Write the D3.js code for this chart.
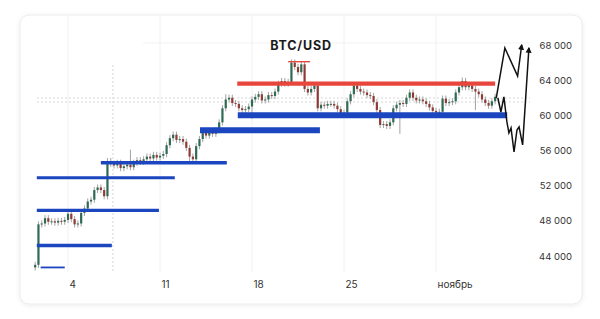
<!DOCTYPE html>
<html>
<head>
<meta charset="utf-8">
<script src="https://d3js.org/d3.v7.min.js"></script>
<style>
  body { margin: 0; background: #fff; }
  text { font-family: Inter, "Noto Sans", sans-serif; }
</style>
</head>
<body>
<div id="chart"></div>
<script>
    // candles: 6h bars starting Oct 1 2021, open = previous close
    var candleStart = "2021-10-01T12:00";
    var candleHours = 6;
    var firstOpen = 42700;
    var closes = [
        43000, 47600, 47700, 48300, 47900, 47950, 47800, 48000, 47900, 48100,
        48800, 48200, 47600, 47700, 48900, 49400, 50200, 50400, 51500, 51800,
        51500, 50800, 54800, 54500, 54300, 54600, 54000, 54200, 54400, 54100,
        54600, 54900, 54700, 55000, 55300, 55100, 55500, 55200, 55400, 55600,
        56600, 57400, 57800, 57200, 57300, 57000, 56300, 55300, 55000, 56500,
        57300, 58000, 57700, 58200, 57900, 58300, 59200, 60800, 61800, 62000,
        61400, 61300, 60800, 60600, 60700, 61000, 61800, 62100, 62400, 61700,
        61800, 62300, 62200, 62700, 63600, 63900, 63600, 63800, 66000, 65500,
        64900, 65800, 63000, 62600, 63000, 63400, 60800, 61200, 61100, 61300,
        61300, 61100, 60700, 60100, 60300, 61600, 62400, 63400, 63000, 62700,
        62600, 62300, 62200, 61500, 60600, 58900, 59000, 58800, 59200, 60800,
        61200, 61400, 61300, 62000, 62600, 62000, 61700, 61800, 61600, 61300,
        60900, 60500, 60300, 60400, 61900, 61400, 61500, 61600, 62600, 63200,
        63900, 63200, 63400, 63000, 62700, 62400, 61800, 61400, 61100, 61600,
        62100
    ];
    // a few longer wicks: [bar index, high, low]
    var longWicks = [
        [29, 56100, null], [47, null, 54600], [58, 62400, null], [66, null, 59600],
        [111, null, 57900], [130, 64300, null], [134, null, 60600]
    ];

    // support / resistance levels
    var bluePrices = [60000, 58300, 54600, 52900, 49200, 45200, 42700];
    var blueFrom = ["2021-10-16T22:00", "2021-10-14T01:00", "2021-10-06T12:00", "2021-10-01T15:00",
        "2021-10-01T15:00", "2021-10-01T15:00", "2021-10-01T22:00"];
    var blueTo = ["2021-11-06T10:00", "2021-10-23T04:00", "2021-10-16T02:00", "2021-10-12T03:00",
        "2021-10-10T22:00", "2021-10-07T08:00", "2021-10-03T18:00"];
    var redPrices = [63600, 66100];
    var redFrom = ["2021-10-16T21:00", "2021-10-20T18:00"];
    var redTo = ["2021-11-05T12:00", "2021-10-22T10:00"];

    // projected paths
    var pathUp = [
        ["2021-11-05T14:00", 61970], ["2021-11-06T05:45", 67660],
        ["2021-11-07T05:00", 64470], ["2021-11-07T12:30", 68000]
    ];
    var pathDown = [
        ["2021-11-05T17:00", 61970], ["2021-11-05T22:30", 60380], ["2021-11-06T04:00", 62090],
        ["2021-11-06T09:30", 59240], ["2021-11-06T13:10", 57990], ["2021-11-06T17:00", 58560],
        ["2021-11-06T22:30", 55830], ["2021-11-07T03:50", 58330], ["2021-11-07T07:40", 58680],
        ["2021-11-07T14:10", 56630], ["2021-11-08T01:40", 67660]
    ];

    // price marker lines and crosshair
    var priceLines = [61970, 61520];
    var crossDate = "2021-10-07T10:00";

    var xTicks = ["2021-10-04T00:00", "2021-10-11T00:00", "2021-10-18T00:00", "2021-10-25T00:00", "2021-11-01T00:00"];
    var yTicks = [44000, 48000, 52000, 56000, 60000, 64000, 68000];
    var title = "BTC/USD";
</script>
<script>
    var parse = d3.timeParse("%Y-%m-%dT%H:%M");
    var W = 600, H = 319;

    var svg = d3.select("#chart")
        .append("svg")
        .attr("width", W)
        .attr("height", H);

    var defs = svg.append("defs");
    defs.append("filter").attr("id", "shadow")
        .attr("x", "-5%").attr("y", "-5%").attr("width", "110%").attr("height", "115%")
        .append("feDropShadow")
        .attr("dx", 0).attr("dy", 1).attr("stdDeviation", 2.5)
        .attr("flood-color", "#000").attr("flood-opacity", 0.08);
    defs.append("marker").attr("id", "arrow")
        .attr("viewBox", "0 0 10 10").attr("refX", 8).attr("refY", 5)
        .attr("markerWidth", 6).attr("markerHeight", 7)
        .attr("markerUnits", "userSpaceOnUse")
        .attr("orient", "auto")
        .append("path").attr("d", "M0,0 L10,5 L0,10 z").attr("fill", "#111");

    // card
    svg.append("rect")
        .attr("x", 20).attr("y", 15).attr("width", 562).attr("height", 289)
        .attr("rx", 9)
        .attr("fill", "#fff").attr("stroke", "#ececec")
        .attr("filter", "url(#shadow)");

    var x = d3.scaleTime()
        .domain([parse("2021-10-01T00:00"), parse("2021-11-08T00:00")])
        .range([28.6, 528]);
    var y = d3.scaleLinear()
        .domain([42000, 70000])
        .range([273.6, 27.4]);

    // grid
    svg.append("g").selectAll("line")
        .data(xTicks.map(parse))
        .enter().append("line")
        .attr("x1", function (d) { return x(d); })
        .attr("x2", function (d) { return x(d); })
        .attr("y1", 16).attr("y2", 272)
        .attr("stroke", "#f0f0f0");
    svg.append("line")
        .attr("x1", 143).attr("x2", 530)
        .attr("y1", y(68000) - 2).attr("y2", y(68000) - 2)
        .attr("stroke", "#f2f2f2");

    // crosshair
    svg.append("line")
        .attr("x1", x(parse(crossDate))).attr("x2", x(parse(crossDate)))
        .attr("y1", 65).attr("y2", 272)
        .attr("stroke", "#d8d8d8").attr("stroke-dasharray", "2,2");
    svg.append("g").selectAll("line")
        .data(priceLines)
        .enter().append("line")
        .attr("x1", 37).attr("x2", 530)
        .attr("y1", function (d) { return y(d); })
        .attr("y2", function (d) { return y(d); })
        .attr("stroke", "#d8d8d8").attr("stroke-dasharray", "2,2");

    // candles
    var t0 = parse(candleStart);
    var candles = closes.map(function (c, i) {
        var o = i === 0 ? firstOpen : closes[i - 1];
        return {
            date: d3.timeHour.offset(t0, i * candleHours),
            open: o, close: c,
            high: Math.max(o, c) + 350, low: Math.min(o, c) - 350
        };
    });
    longWicks.forEach(function (w) {
        if (w[1] !== null) candles[w[0]].high = w[1];
        if (w[2] !== null) candles[w[0]].low = w[2];
    });

    var cg = svg.append("g");
    cg.selectAll("line")
        .data(candles)
        .enter().append("line")
        .attr("x1", function (d) { return x(d.date); })
        .attr("x2", function (d) { return x(d.date); })
        .attr("y1", function (d) { return y(d.high); })
        .attr("y2", function (d) { return y(d.low); })
        .attr("stroke", "#999").attr("stroke-width", 0.9);
    cg.selectAll("rect")
        .data(candles)
        .enter().append("rect")
        .attr("x", function (d) { return x(d.date) - 1.1; })
        .attr("width", 2.2)
        .attr("y", function (d) { return y(Math.max(d.open, d.close)); })
        .attr("height", function (d) { return Math.max(1, Math.abs(y(d.open) - y(d.close))); })
        .attr("fill", function (d) { return d.close >= d.open ? "#2f6a52" : "#8f3b35"; });

    // levels
    var blueWidth = [6, 6, 3.5, 3, 3.3, 3.5, 1.8];
    var redWidth = [4.3, 1.4];
    svg.append("g").selectAll("line")
        .data(bluePrices)
        .enter().append("line")
        .attr("x1", function (d, i) { return x(parse(blueFrom[i])); })
        .attr("x2", function (d, i) { return x(parse(blueTo[i])); })
        .attr("y1", function (d) { return y(d); })
        .attr("y2", function (d) { return y(d); })
        .attr("stroke", "#1c46c0")
        .attr("stroke-width", function (d, i) { return blueWidth[i]; });
    svg.append("g").selectAll("line")
        .data(redPrices)
        .enter().append("line")
        .attr("x1", function (d, i) { return x(parse(redFrom[i])); })
        .attr("x2", function (d, i) { return x(parse(redTo[i])); })
        .attr("y1", function (d) { return y(d); })
        .attr("y2", function (d) { return y(d); })
        .attr("stroke", "#e8453c")
        .attr("stroke-width", function (d, i) { return redWidth[i]; });

    // projections
    var line = d3.line()
        .x(function (d) { return x(parse(d[0])); })
        .y(function (d) { return y(d[1]); });
    [pathUp, pathDown].forEach(function (p) {
        svg.append("path")
            .attr("d", line(p))
            .attr("fill", "none")
            .attr("stroke", "#111")
            .attr("stroke-width", 1.5)
            .attr("stroke-linejoin", "miter")
            .attr("marker-end", "url(#arrow)");
    });

    // title
    svg.append("text")
        .attr("x", 301).attr("y", 49.5)
        .attr("text-anchor", "middle")
        .attr("font-size", 12.5).attr("font-weight", 700)
        .attr("letter-spacing", 0.8)
        .attr("fill", "#1a1a1a")
        .text(title);

    // y axis
    var ru = d3.formatLocale({decimal: ",", thousands: "\u00a0", grouping: [3], currency: ["", ""]});
    var yAxis = svg.append("g")
        .attr("transform", "translate(572,0)")
        .call(d3.axisRight(y).tickValues(yTicks).tickSize(0).tickFormat(ru.format(",")));
    yAxis.select(".domain").remove();
    yAxis.selectAll("text")
        .attr("x", 0).attr("text-anchor", "end")
        .attr("font-family", "Inter, sans-serif")
        .attr("font-size", 9.5).attr("fill", "#333");

    // x axis
    var xAxis = svg.append("g")
        .call(d3.axisBottom(x).tickValues(xTicks.map(parse)).tickSize(0)
            .tickFormat(function (d) { return d.getDate() === 1 ? "ноябрь" : d.getDate(); }));
    xAxis.select(".domain").remove();
    xAxis.selectAll("text")
        .attr("y", 288).attr("dy", 0).attr("text-anchor", "start")
        .attr("dx", 1)
        .attr("font-family", "Inter, sans-serif")
        .attr("font-size", 10).attr("fill", "#333");
</script>
</body>
</html>
